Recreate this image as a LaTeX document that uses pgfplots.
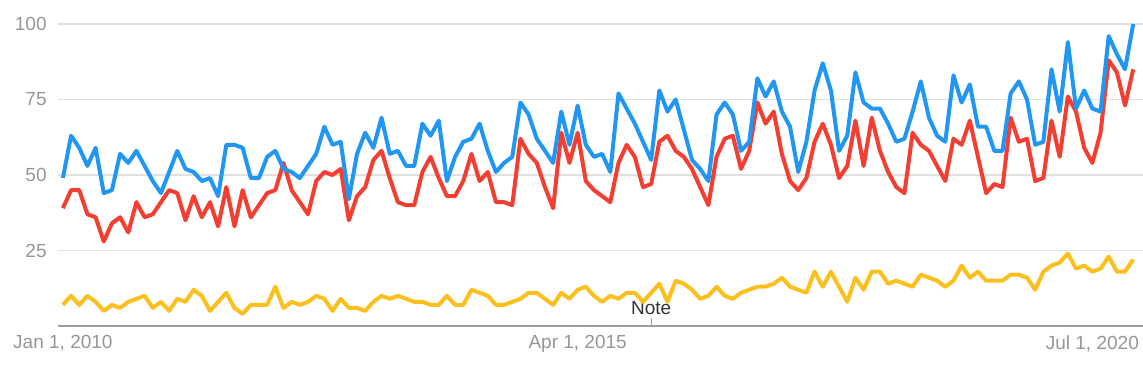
\documentclass[border=0pt]{standalone}
\usepackage{pgfplots}
\usepackage{pgfplotstable}
\pgfplotsset{compat=1.18}
\usepackage{fontspec}
\setmainfont{Liberation Sans}
\definecolor{gblue}{RGB}{33,150,243}
\definecolor{gred}{RGB}{244,62,50}
\definecolor{gyellow}{RGB}{251,192,30}
\definecolor{gridgray}{RGB}{224,224,224}
\definecolor{basegray}{RGB}{158,158,158}
\definecolor{labelgray}{RGB}{150,150,150}
\definecolor{notegray}{RGB}{51,51,51}
\pgfplotstableread{
i b r y
0 49 39 7
1 63 45 10
2 59 45 7
3 53 37 10
4 59 36 8
5 44 28 5
6 45 34 7
7 57 36 6
8 54 31 8
9 58 41 9
10 53 36 10
11 48 37 6
12 44 41 8
13 51 45 5
14 58 44 9
15 52 35 8
16 51 43 12
17 48 36 10
18 49 41 5
19 43 33 8
20 60 46 11
21 60 33 6
22 59 45 4
23 49 36 7
24 49 40 7
25 56 44 7
26 58 45 13
27 52 54 6
28 51 45 8
29 49 41 7
30 53 37 8
31 57 48 10
32 66 51 9
33 60 50 5
34 61 52 9
35 42 35 6
36 57 43 6
37 64 46 5
38 59 55 8
39 69 58 10
40 57 49 9
41 58 41 10
42 53 40 9
43 53 40 8
44 67 51 8
45 63 56 7
46 68 49 7
47 48 43 10
48 56 43 7
49 61 48 7
50 62 57 12
51 67 48 11
52 58 51 10
53 51 41 7
54 54 41 7
55 56 40 8
56 74 62 9
57 70 57 11
58 62 54 11
59 58 46 9
60 54 39 7
61 71 64 11
62 60 54 9
63 73 64 12
64 60 48 13
65 56 45 10
66 57 43 8
67 51 41 10
68 77 54 9
69 72 60 11
70 67 56 11
71 61 46 8
72 55 47 11
73 78 61 14
74 71 63 8
75 75 58 15
76 65 56 14
77 55 52 12
78 52 46 9
79 48 40 10
80 70 56 13
81 74 62 10
82 70 63 9
83 58 52 11
84 61 58 12
85 82 74 13
86 76 67 13
87 81 71 14
88 71 57 16
89 66 48 13
90 51 45 12
91 61 49 11
92 78 61 18
93 87 67 13
94 78 60 18
95 58 49 13
96 63 53 8
97 84 68 16
98 74 53 12
99 72 69 18
100 72 58 18
101 67 51 14
102 61 46 15
103 62 44 14
104 71 64 13
105 81 60 17
106 69 58 16
107 63 53 15
108 61 48 13
109 83 62 15
110 74 60 20
111 80 68 16
112 66 56 18
113 66 44 15
114 58 47 15
115 58 46 15
116 77 69 17
117 81 61 17
118 75 62 16
119 60 48 12
120 61 49 18
121 85 68 20
122 71 56 21
123 94 76 24
124 72 71 19
125 78 59 20
126 72 54 18
127 71 64 19
128 96 88 23
129 90 84 18
130 85 73 18
131 100 85 22
}\trends
\begin{document}
\begin{tikzpicture}
\path[use as bounding box] (0pt,0pt) rectangle (571.5pt,187.5pt);
\begin{axis}[
  at={(29pt,24.5pt)}, anchor=south west,
  scale only axis, width=542.5pt, height=151pt,
  xmin=-0.6, xmax=132.2, ymin=0, ymax=100,
  clip=false,
  axis line style={draw=none},
  ytick={25,50,75,100},
  xtick={0,63,126},
  xticklabels={{Jan 1, 2010},{Apr 1, 2015},{Jul 1, 2020}},
  major tick length=0pt,
  ymajorgrids,
  grid style={color=gridgray, line width=0.75pt},
  tick label style={font=\fontsize{9.5}{11}\selectfont, text=labelgray},
  /pgf/number format/assume math mode=true,
  yticklabel style={anchor=east, inner sep=0pt, xshift=-5.5pt},
  xticklabel style={anchor=north, inner sep=0pt, yshift=-4.5pt},
]
\draw[basegray, line width=1pt] (axis cs:-0.6,0) -- (axis cs:132.2,0);
\draw[basegray, line width=0.6pt] (axis cs:72,0) -- ++(0pt,4pt);
\node[anchor=base, inner sep=0pt, text=notegray, font=\fontsize{9.5}{11}\selectfont] at (axis cs:72,0) [yshift=6pt] {Note};
\addplot[gyellow, line width=2pt, line join=round, no marks] table[x=i, y=y] {\trends};
\addplot[gred, line width=2pt, line join=round, no marks] table[x=i, y=r] {\trends};
\addplot[gblue, line width=2pt, line join=round, no marks] table[x=i, y=b] {\trends};
\end{axis}
\end{tikzpicture}
\end{document}
